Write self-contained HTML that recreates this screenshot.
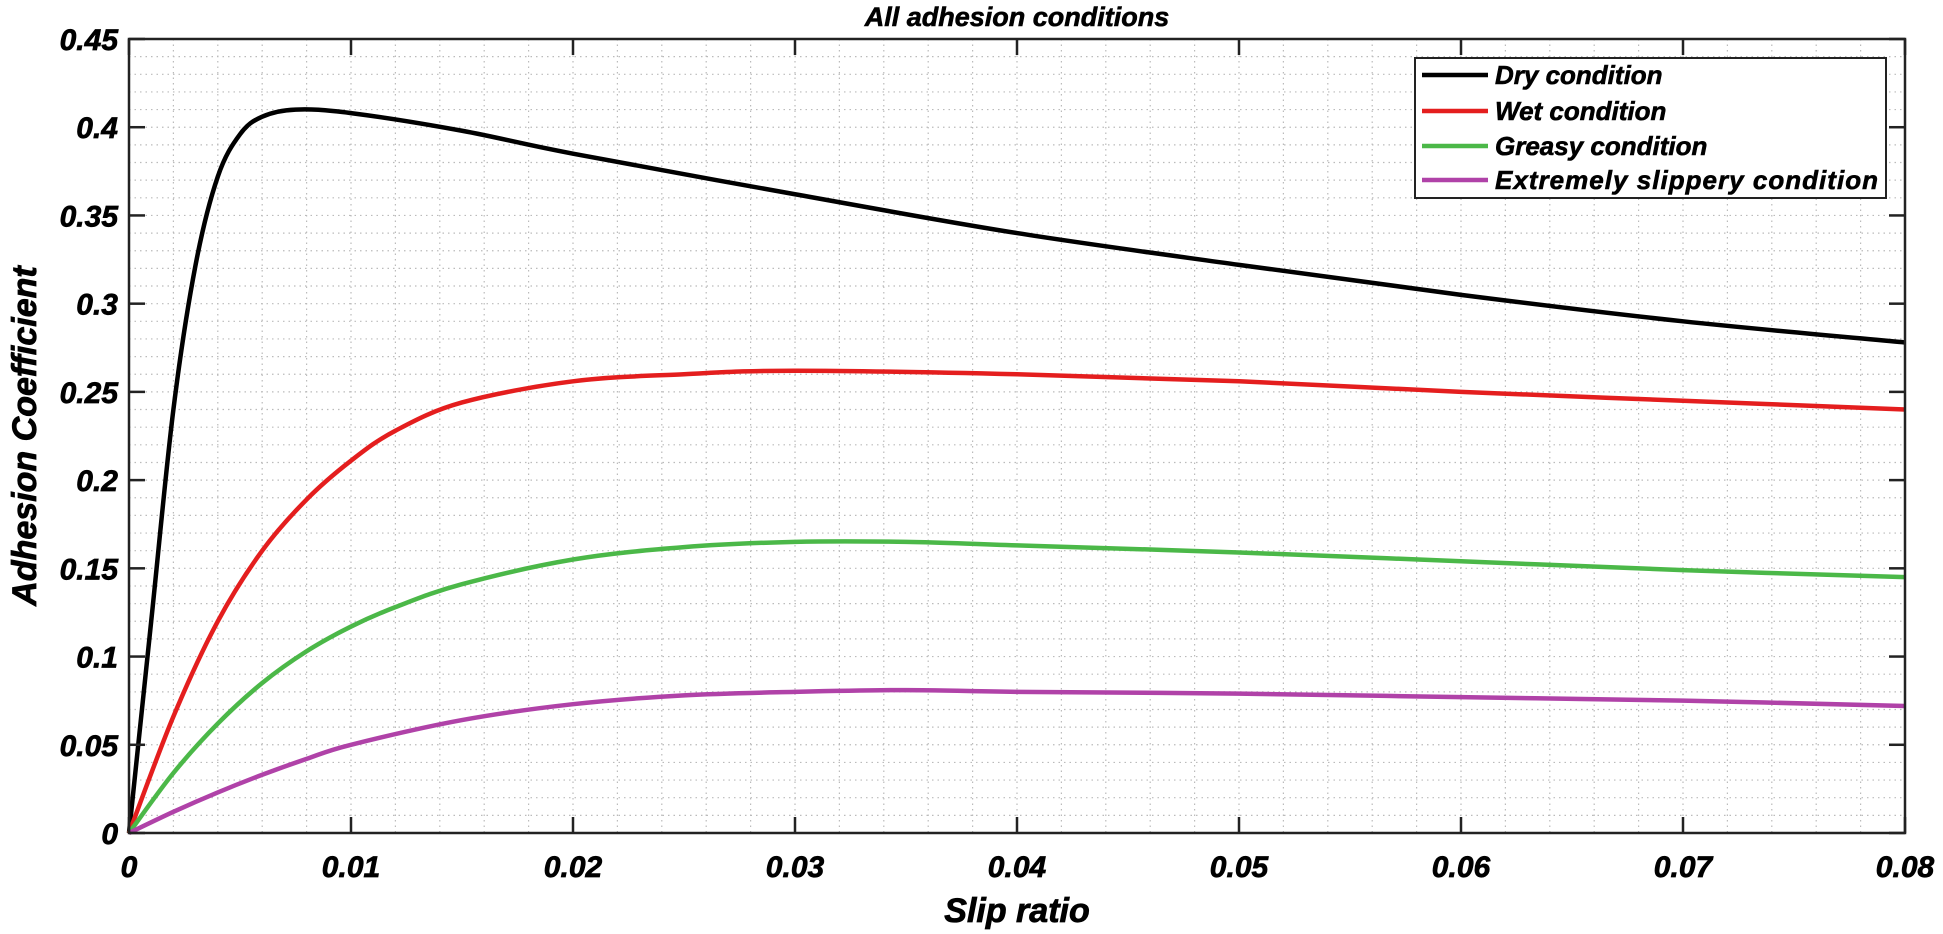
<!DOCTYPE html>
<html><head><meta charset="utf-8"><style>
html,body{margin:0;padding:0;background:#fff;}
svg{display:block;}
text{font-family:"Liberation Sans",Arial,sans-serif;font-weight:bold;font-style:italic;fill:#000;}
</style></head><body>
<svg id="chart" width="1943" height="934" viewBox="0 0 1943 934">
<g id="grid"></g>
<g id="series"></g>
<g id="axes"></g>
<text x="1017" y="26" font-size="27" text-anchor="middle" stroke="#000" stroke-width="0.6">All adhesion conditions</text>
<text x="1017" y="922" font-size="34" text-anchor="middle" stroke="#000" stroke-width="0.8">Slip ratio</text>
<text transform="translate(36,436) rotate(-90)" font-size="34" text-anchor="middle" stroke="#000" stroke-width="0.8">Adhesion Coefficient</text>
<g id="legend"></g>
</svg>
<script>
const xTicks=[0,0.01,0.02,0.03,0.04,0.05,0.06,0.07,0.08];
const xTickLabels=["0","0.01","0.02","0.03","0.04","0.05","0.06","0.07","0.08"];
const yTicks=[0,0.05,0.1,0.15,0.2,0.25,0.3,0.35,0.4,0.45];
const yTickLabels=["0","0.05","0.1","0.15","0.2","0.25","0.3","0.35","0.4","0.45"];
const seriesNames=["Dry condition","Wet condition","Greasy condition","Extremely slippery condition"];
const seriesColors=["#000000","#e41e1e","#4bb848","#b042a8"];
const dryX=[0,0.001,0.002,0.003,0.004,0.005,0.006,0.0075,0.01,0.015,0.02,0.03,0.04,0.05,0.06,0.07,0.08];
const dryY=[0,0.12,0.24,0.322,0.372,0.396,0.406,0.41,0.408,0.398,0.385,0.362,0.34,0.322,0.305,0.29,0.278];
const wetX=[0,0.002,0.004,0.006,0.008,0.01,0.012,0.015,0.02,0.025,0.03,0.04,0.05,0.06,0.07,0.08];
const wetY=[0,0.066,0.12,0.16,0.189,0.211,0.228,0.244,0.256,0.26,0.262,0.26,0.256,0.25,0.245,0.24];
const greasyX=[0,0.002,0.004,0.006,0.008,0.01,0.012,0.015,0.02,0.025,0.03,0.035,0.04,0.05,0.06,0.07,0.08];
const greasyY=[0,0.034,0.062,0.085,0.103,0.117,0.128,0.141,0.155,0.162,0.165,0.165,0.163,0.159,0.154,0.149,0.145];
const slipX=[0,0.002,0.004,0.006,0.008,0.01,0.015,0.02,0.025,0.03,0.035,0.04,0.05,0.06,0.07,0.08];
const slipY=[0,0.012,0.023,0.033,0.042,0.05,0.064,0.073,0.078,0.08,0.081,0.08,0.079,0.077,0.075,0.072];

const X0=129,X1=1905,Y0=833,Y1=39;
const xs=v=>X0+(v-0)/(0.08)*(X1-X0);
const ys=v=>Y0-(v-0)/(0.45)*(Y0-Y1);
const NS="http://www.w3.org/2000/svg";
function mk(tag,attrs,parent){const e=document.createElementNS(NS,tag);for(const k in attrs)e.setAttribute(k,attrs[k]);parent.appendChild(e);return e;}
const grid=document.getElementById('grid'),axes=document.getElementById('axes'),ser=document.getElementById('series'),leg=document.getElementById('legend');
for(let i=0;i<=40;i++){const x=xs(i*0.002);
 const l=mk('line',{x1:x,x2:x,y1:Y1,y2:Y0,stroke:'#bbb','stroke-width':1.2,'stroke-dasharray':'1.5 4'},grid);
 
 }
for(let i=0;i<=45;i++){const y=ys(i*0.01);
 const l=mk('line',{x1:X0,x2:X1,y1:y,y2:y,stroke:'#bbb','stroke-width':1.2,'stroke-dasharray':'1.5 4'},grid);
 
 }
const fr=mk('rect',{x:X0,y:Y1,width:X1-X0,height:Y0-Y1,fill:'none',stroke:'#222','stroke-width':2.5},axes);


xTicks.forEach((v,i)=>{const x=xs(v);
 mk('line',{x1:x,x2:x,y1:Y0,y2:Y0-16,stroke:'#222','stroke-width':2.5},axes);
 mk('line',{x1:x,x2:x,y1:Y1,y2:Y1+16,stroke:'#222','stroke-width':2.5},axes);
 const t=mk('text',{x:x,y:877,'font-size':30,'text-anchor':'middle',stroke:'#000','stroke-width':0.7},axes);t.textContent=xTickLabels[i];
 
 });
yTicks.forEach((v,i)=>{const y=ys(v);
 mk('line',{x1:X0,x2:X0+16,y1:y,y2:y,stroke:'#222','stroke-width':2.5},axes);
 mk('line',{x1:X1,x2:X1-16,y1:y,y2:y,stroke:'#222','stroke-width':2.5},axes);
 const t=mk('text',{x:118,y:y+11,'font-size':30,'text-anchor':'end',stroke:'#000','stroke-width':0.7},axes);t.textContent=yTickLabels[i];
 
 });
function smooth(px,py){const p=px.map((v,i)=>[xs(v),ys(py[i])]);let d='M'+p[0][0]+','+p[0][1];
 for(let i=0;i<p.length-1;i++){const p0=p[Math.max(0,i-1)],p1=p[i],p2=p[i+1],p3=p[Math.min(p.length-1,i+2)];
  const c1=[p1[0]+(p2[0]-p0[0])/6,p1[1]+(p2[1]-p0[1])/6],c2=[p2[0]-(p3[0]-p1[0])/6,p2[1]-(p3[1]-p1[1])/6];
  d+=' C'+c1+' '+c2+' '+p2;}return d;}
const data=[[dryX,dryY],[wetX,wetY],[greasyX,greasyY],[slipX,slipY]];
const snames=['dry-curve','wet-curve','greasy-curve','slippery-curve'];
data.forEach((s,i)=>{const p=mk('path',{d:smooth(s[0],s[1]),fill:'none',stroke:seriesColors[i],'stroke-width':4.5,'stroke-linejoin':'round'},ser);
 
 });
const lb=mk('rect',{x:1415,y:58,width:471,height:140,fill:'#fff',stroke:'#222','stroke-width':2},leg);


const rows=[75,111,146,180];
const lens=[205,210,260,383];
seriesNames.forEach((n,i)=>{const g=mk('g',{},leg);
 
 
 mk('line',{x1:1422,x2:1488,y1:rows[i],y2:rows[i],stroke:seriesColors[i],'stroke-width':4.5},g);
 const t=mk('text',{x:1495,y:rows[i]+9,'font-size':26,stroke:'#000','stroke-width':0.6},g);
 if(i==3)t.setAttribute('textLength',383);
 t.textContent=n;});
</script>
</body></html>
